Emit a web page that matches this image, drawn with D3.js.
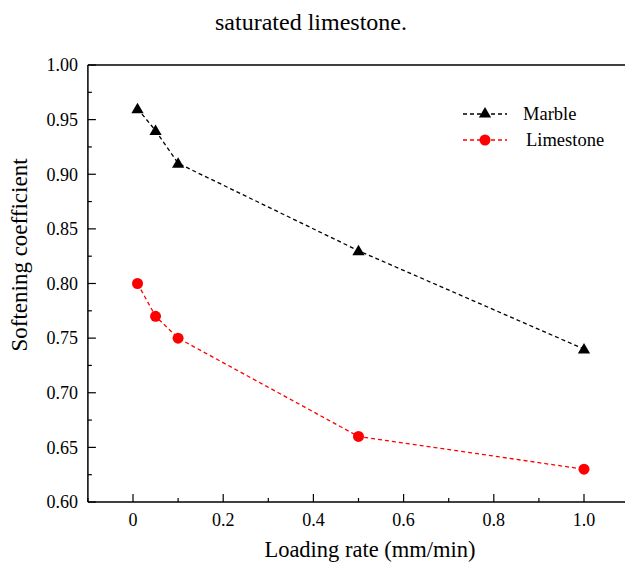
<!DOCTYPE html>
<html>
<head>
<meta charset="utf-8">
<script src="https://cdn.jsdelivr.net/npm/d3@7"></script>
<style>
  body { margin: 0; background: #fff; }
  svg { display: block; font-family: "Liberation Serif", "Times New Roman", serif; }
</style>
</head>
<body>
<svg id="chart" width="625" height="564"></svg>
<script>
const loadingRates = [0.01, 0.05, 0.1, 0.5, 1.0];
const marble = [0.96, 0.94, 0.91, 0.83, 0.74];
const limestone = [0.80, 0.77, 0.75, 0.66, 0.63];
const xTicks = [0, 0.2, 0.4, 0.6, 0.8, 1.0];
const yTicks = [0.60, 0.65, 0.70, 0.75, 0.80, 0.85, 0.90, 0.95, 1.00];

const svg = d3.select("#chart");
const width = 625;

// plot box runs past the right edge of the picture (x = 1.1 is off-canvas)
const x = d3.scaleLinear().domain([-0.1, 1.1]).range([87.9, 629.1]);
const y = d3.scaleLinear().domain([0.6, 1.0]).range([502, 65]);

const g = svg.append("g");

// top frame line
g.append("line").attr("x1", x(-0.1)).attr("x2", width + 5)
  .attr("y1", y(1.0)).attr("y2", y(1.0)).attr("stroke", "#000").attr("stroke-width", 1.5);

// bottom axis, ticks pointing inward
const xAxis = g.append("g").attr("transform", `translate(0,${y(0.6)})`);
xAxis.append("line").attr("x1", x(-0.1)).attr("x2", width + 5)
  .attr("stroke", "#000").attr("stroke-width", 1.5);
const xMinor = d3.range(-0.1, 1.11, 0.1).map(v => +v.toFixed(2));
xAxis.selectAll(".xminor").data(xMinor).enter().append("line")
  .attr("x1", d => x(d)).attr("x2", d => x(d))
  .attr("y1", 0).attr("y2", d => xTicks.some(t => Math.abs(t - d) < 1e-9) ? -8 : -4)
  .attr("stroke", "#000").attr("stroke-width", 1.2);
xAxis.selectAll(".xlab").data(xTicks).enter().append("text")
  .attr("x", d => x(d)).attr("y", 24)
  .attr("text-anchor", "middle").attr("font-size", 18).attr("fill", "#000")
  .text(d => d === 0 ? "0" : d3.format(".1f")(d));

// left axis
const yAxis = g.append("g").attr("transform", `translate(${x(-0.1)},0)`);
yAxis.append("line").attr("y1", y(0.6)).attr("y2", y(1.0))
  .attr("stroke", "#000").attr("stroke-width", 1.5);
const yMinor = d3.range(0.6, 1.0001, 0.025).map(v => +v.toFixed(3));
yAxis.selectAll(".yminor").data(yMinor).enter().append("line")
  .attr("y1", d => y(d)).attr("y2", d => y(d))
  .attr("x1", 0).attr("x2", d => yTicks.some(t => Math.abs(t - d) < 1e-9) ? 8 : 4)
  .attr("stroke", "#000").attr("stroke-width", 1.2);
yAxis.selectAll(".ylab").data(yTicks).enter().append("text")
  .attr("x", -10).attr("y", d => y(d)).attr("dy", "0.35em")
  .attr("text-anchor", "end").attr("font-size", 18).attr("fill", "#000")
  .text(d => d3.format(".2f")(d));

// titles
svg.append("text").attr("x", 311).attr("y", 30).attr("text-anchor", "middle")
  .attr("font-size", 24).attr("fill", "#000").text("saturated limestone.");
svg.append("text").attr("x", 370).attr("y", 557).attr("text-anchor", "middle")
  .attr("font-size", 22.5).attr("fill", "#000").text("Loading rate (mm/min)");
svg.append("text").attr("transform", "translate(27,255) rotate(-90)")
  .attr("text-anchor", "middle").attr("font-size", 23).attr("fill", "#000")
  .text("Softening coefficient");

const line = d3.line().x((d, i) => x(loadingRates[i])).y(d => y(d));
const tri = d3.symbol().type(d3.symbolTriangle).size(65);

function drawSeries(values, color, shape) {
  g.append("path").datum(values).attr("d", line)
    .attr("fill", "none").attr("stroke", color).attr("stroke-width", 1.3)
    .attr("stroke-dasharray", "4,3");
  const pts = g.selectAll(null).data(values).enter();
  if (shape === "tri") {
    pts.append("path").attr("d", tri)
      .attr("transform", (d, i) => `translate(${x(loadingRates[i])},${y(d) + 1})`)
      .attr("fill", color);
  } else {
    pts.append("circle").attr("cx", (d, i) => x(loadingRates[i])).attr("cy", d => y(d))
      .attr("r", 5.5).attr("fill", color);
  }
}
drawSeries(marble, "#000", "tri");
drawSeries(limestone, "#ff0000", "circle");

// legend
const legend = [
  { name: "Marble", color: "#000", shape: "tri", y: 114, tx: 523 },
  { name: "Limestone", color: "#ff0000", shape: "circle", y: 140, tx: 526 }
];
legend.forEach(l => {
  svg.append("line").attr("x1", 463).attr("x2", 507).attr("y1", l.y).attr("y2", l.y)
    .attr("stroke", l.color).attr("stroke-width", 1.3).attr("stroke-dasharray", "4,3");
  if (l.shape === "tri") {
    svg.append("path").attr("d", tri).attr("transform", `translate(485,${l.y})`).attr("fill", l.color);
  } else {
    svg.append("circle").attr("cx", 485).attr("cy", l.y).attr("r", 5.5).attr("fill", l.color);
  }
  svg.append("text").attr("x", l.tx).attr("y", l.y).attr("dy", "0.35em")
    .attr("font-size", 18.5).attr("fill", "#000").text(l.name);
});
</script>
</body>
</html>
